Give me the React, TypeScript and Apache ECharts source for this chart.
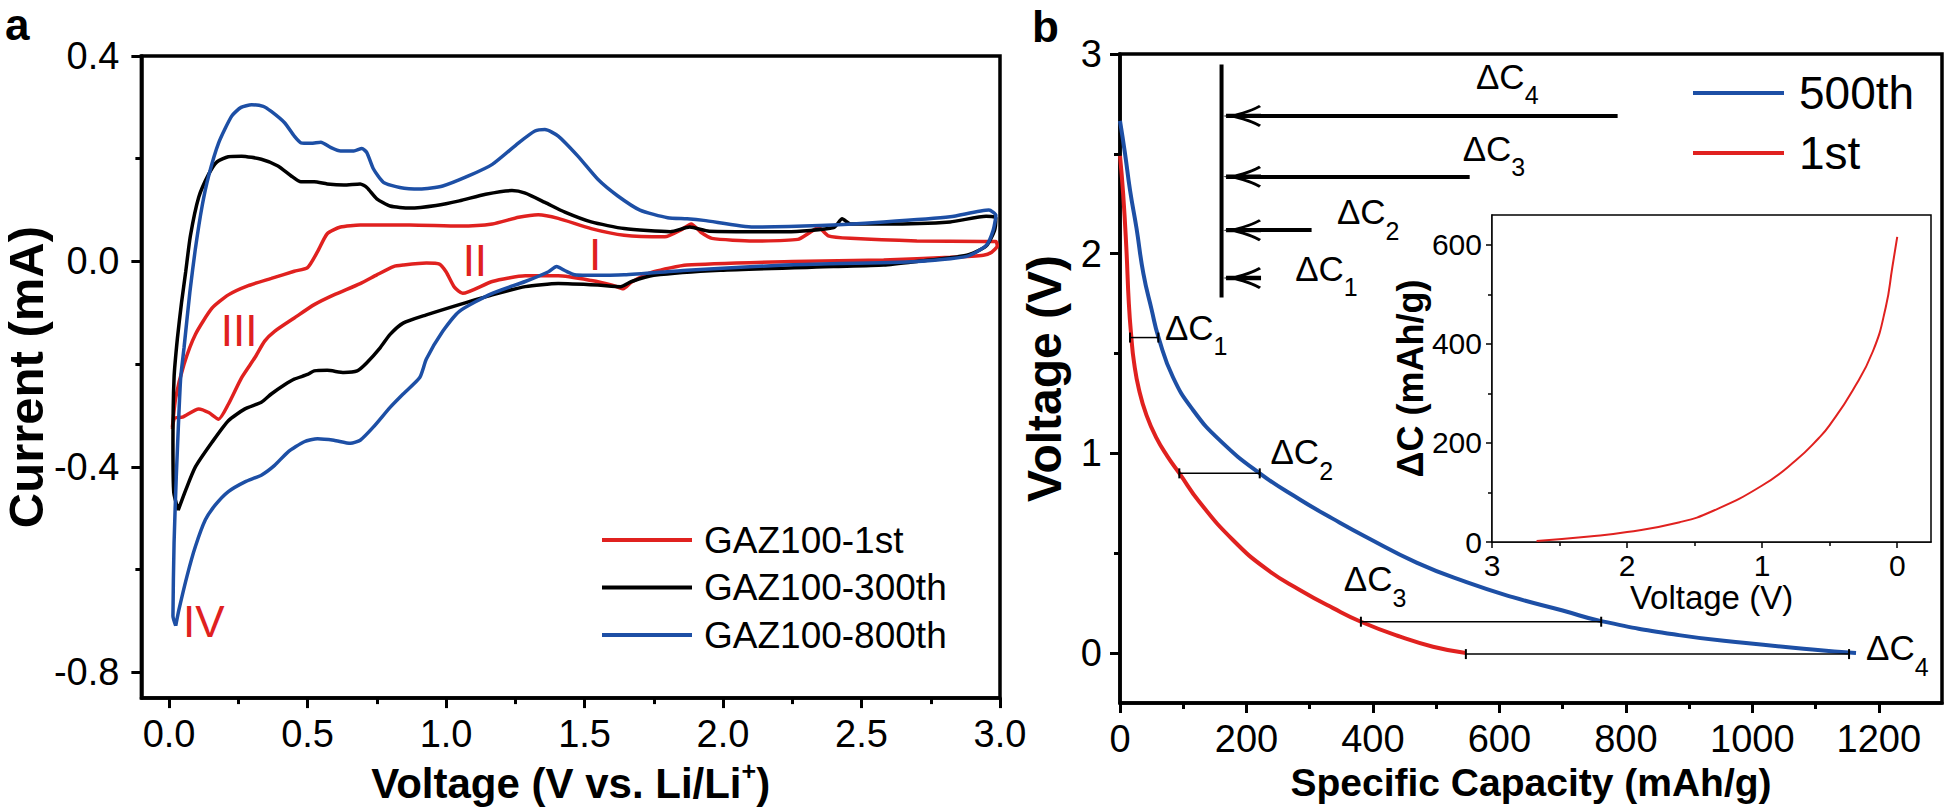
import React, { useEffect, useRef } from "react";
import * as echarts from "echarts";

const FONT = '"Liberation Sans", Arial, Helvetica, sans-serif';
const RED = "#e0211f";
const BLUE = "#1d4fa5";
const BLACK = "#000000";

// ---------- Panel a: cyclic voltammetry (Voltage V, Current mA) ----------
const CV_1ST: number[][] = [
  [0.012, -0.323], [0.024, -0.265], [0.054, -0.2], [0.095, -0.142], [0.155, -0.091], [0.214, -0.065],
  [0.286, -0.047], [0.369, -0.033], [0.452, -0.019], [0.5, -0.012], [0.536, 0.019], [0.571, 0.054],
  [0.619, 0.067], [0.69, 0.071], [0.869, 0.071], [1.048, 0.069], [1.167, 0.073], [1.262, 0.086],
  [1.333, 0.091], [1.405, 0.084], [1.524, 0.064], [1.643, 0.051], [1.79, 0.048], [1.85, 0.062],
  [1.885, 0.073], [1.92, 0.057], [1.96, 0.045], [2.11, 0.04], [2.27, 0.043], [2.315, 0.057],
  [2.345, 0.066], [2.38, 0.05], [2.46, 0.045], [2.7, 0.04], [2.94, 0.039], [2.985, 0.039],
  [2.99, 0.03], [2.97, 0.018], [2.94, 0.012], [2.82, 0.008], [2.58, 0.003], [2.25, 0.0],
  [1.87, -0.007], [1.75, -0.02], [1.67, -0.04], [1.64, -0.053], [1.6, -0.046], [1.524, -0.037],
  [1.405, -0.028], [1.286, -0.028], [1.167, -0.039], [1.06, -0.062], [1.03, -0.05], [1.0, -0.02],
  [0.976, -0.005], [0.929, -0.003], [0.845, -0.007], [0.81, -0.01], [0.75, -0.026], [0.69, -0.043],
  [0.595, -0.065], [0.524, -0.084], [0.452, -0.11], [0.381, -0.136], [0.345, -0.155], [0.31, -0.187],
  [0.262, -0.226], [0.214, -0.278], [0.179, -0.307], [0.143, -0.294], [0.107, -0.287], [0.048, -0.303],
  [0.02, -0.305], [0.012, -0.326],
];
const CV_300TH: number[][] = [
  [0.033, -0.484], [0.017, -0.45], [0.014, -0.355], [0.018, -0.226], [0.03, -0.15], [0.045, -0.08],
  [0.06, -0.02], [0.077, 0.05], [0.107, 0.125], [0.143, 0.17], [0.173, 0.194], [0.214, 0.204],
  [0.262, 0.205], [0.333, 0.199], [0.393, 0.186], [0.44, 0.167], [0.476, 0.155], [0.524, 0.155],
  [0.571, 0.151], [0.631, 0.149], [0.69, 0.151], [0.714, 0.144], [0.75, 0.122], [0.798, 0.108],
  [0.869, 0.104], [0.964, 0.109], [1.048, 0.118], [1.143, 0.131], [1.238, 0.138], [1.286, 0.133],
  [1.357, 0.115], [1.429, 0.096], [1.524, 0.077], [1.643, 0.064], [1.81, 0.058], [1.88, 0.067],
  [1.95, 0.059], [2.23, 0.058], [2.4, 0.066], [2.43, 0.083], [2.46, 0.073], [2.58, 0.073],
  [2.82, 0.077], [2.95, 0.088], [2.985, 0.085], [2.98, 0.06], [2.95, 0.03], [2.88, 0.012],
  [2.7, 0.0], [2.58, -0.007], [2.4, -0.01], [1.99, -0.017], [1.75, -0.027], [1.67, -0.039],
  [1.63, -0.049], [1.548, -0.046], [1.405, -0.043], [1.286, -0.049], [1.167, -0.065], [1.048, -0.084],
  [0.929, -0.104], [0.845, -0.12], [0.798, -0.142], [0.762, -0.168], [0.714, -0.197], [0.679, -0.213],
  [0.631, -0.216], [0.571, -0.212], [0.524, -0.213], [0.5, -0.22], [0.452, -0.229], [0.417, -0.24],
  [0.369, -0.258], [0.333, -0.274], [0.274, -0.287], [0.214, -0.31], [0.155, -0.352], [0.095, -0.4],
  [0.06, -0.445], [0.033, -0.484],
];
const CV_800TH: number[][] = [
  [0.024, -0.709], [0.014, -0.69], [0.018, -0.548], [0.026, -0.419], [0.036, -0.29], [0.042, -0.226],
  [0.054, -0.168], [0.075, -0.06], [0.095, 0.025], [0.12, 0.11], [0.143, 0.167], [0.179, 0.231],
  [0.226, 0.283], [0.26, 0.3], [0.298, 0.305], [0.34, 0.302], [0.369, 0.292], [0.417, 0.27],
  [0.452, 0.244], [0.476, 0.231], [0.512, 0.23], [0.548, 0.232], [0.583, 0.222], [0.619, 0.215],
  [0.667, 0.215], [0.696, 0.22], [0.714, 0.212], [0.738, 0.18], [0.774, 0.154], [0.833, 0.144],
  [0.905, 0.141], [0.988, 0.147], [1.083, 0.167], [1.167, 0.189], [1.262, 0.231], [1.321, 0.254],
  [1.357, 0.257], [1.405, 0.244], [1.476, 0.205], [1.548, 0.16], [1.619, 0.128], [1.7, 0.1],
  [1.8, 0.085], [1.87, 0.083], [1.93, 0.08], [2.11, 0.067], [2.35, 0.07], [2.58, 0.077],
  [2.82, 0.087], [2.96, 0.1], [2.985, 0.09], [2.975, 0.06], [2.95, 0.031], [2.88, 0.01],
  [2.7, 0.0], [2.225, -0.007], [1.87, -0.017], [1.643, -0.026], [1.51, -0.027], [1.464, -0.026],
  [1.43, -0.018], [1.399, -0.01], [1.37, -0.02], [1.286, -0.039], [1.167, -0.062], [1.048, -0.097],
  [0.988, -0.136], [0.929, -0.19], [0.905, -0.226], [0.845, -0.258], [0.798, -0.284], [0.738, -0.322],
  [0.69, -0.348], [0.655, -0.354], [0.595, -0.348], [0.536, -0.345], [0.488, -0.351], [0.429, -0.371],
  [0.381, -0.397], [0.333, -0.416], [0.274, -0.429], [0.214, -0.448], [0.167, -0.474], [0.131, -0.503],
  [0.095, -0.555], [0.065, -0.612], [0.036, -0.677], [0.024, -0.709],
];
const A_X_MAJOR = [0, 0.5, 1, 1.5, 2, 2.5, 3];
const A_X_MINOR = [0.25, 0.75, 1.25, 1.75, 2.25, 2.75];
const A_Y_MAJOR = [-0.8, -0.4, 0, 0.4];
const A_Y_MINOR = [-0.6, -0.2, 0.2];
const PEAK_NAMES = ["I", "II", "III", "IV"];
const PEAK_X = [1.538, 1.104, 0.253, 0.125];
const PEAK_Y = [0.014, 0.002, -0.134, -0.701];

// ---------- Panel b: discharge curves (Specific capacity mAh/g, Voltage V) ----------
const CAP_500TH: number[][] = [
  [0, 2.665], [8, 2.5], [16, 2.315], [26, 2.13], [37, 1.9], [50, 1.72], [61, 1.58], [84, 1.38],
  [116, 1.215], [158, 1.065], [221, 0.9], [285, 0.768], [337, 0.672], [390, 0.58], [469, 0.453],
  [548, 0.355], [621, 0.28], [700, 0.213], [761, 0.16], [884, 0.09], [990, 0.05], [1095, 0.018],
  [1164, 0.0],
];
const CAP_1ST: number[][] = [
  [0, 2.49], [5, 2.3], [10, 2.03], [14, 1.75], [18, 1.58], [22, 1.46], [30, 1.32], [42, 1.19],
  [58, 1.075], [75, 0.985], [94, 0.9], [126, 0.755], [179, 0.565], [232, 0.42], [285, 0.315],
  [337, 0.225], [381, 0.157], [443, 0.082], [495, 0.032], [547, 0.0],
];
const DC_BAR_Y = [1.58, 0.9, 0.157, -0.005];
const DC_BAR_X1 = [15.8, 93.8, 381, 547];
const DC_BAR_X2 = [60.6, 221, 761, 1153];
const DC_LABEL_SUB = ["4", "3", "2", "1", "1", "2", "3", "4"];
const DC_LABEL_X = [563, 542, 343, 277, 71, 238, 354, 1180];
const DC_LABEL_Y = [2.818, 2.458, 2.14, 1.857, 1.562, 0.937, 0.303, -0.043];
const ARROW_Y = [2.69, 2.385, 2.118, 1.878];
const ARROW_END_X = [787, 553, 303, 218];
const ARROW_STEM_X = 160.6;
const ARROW_STEM_Y = [1.78, 2.948];
const B_X_MAJOR = [0, 200, 400, 600, 800, 1000, 1200];
const B_X_MINOR = [100, 300, 500, 700, 900, 1100];
const B_Y_MAJOR = [0, 1, 2, 3];
const B_Y_MINOR = [0.5, 1.5, 2.5];

// ---------- Inset: ΔC vs Voltage ----------
const INSET_V = [2.67, 2.28, 2.0, 1.61, 1.37, 1.0, 0.75, 0.58, 0.5, 0.33, 0.18, 0.085, 0.036, 0.0];
const INSET_DC = [2, 11, 20, 40, 62, 114, 165, 210, 236, 306, 385, 474, 555, 616];
const I_X_MAJOR = [0, 1, 2, 3];
const I_X_MINOR = [0.5, 1.5, 2.5];
const I_Y_MAJOR = [0, 200, 400, 600];
const I_Y_MINOR = [100, 300, 500];

// barbed arrow head (pointing up, tip at top), with a shaft strip
const ARROW_PATH =
  "path://M8,3 L12,3 L12,38 L8,38 Z M10,0 C12,14 15,26 20,36 L18,38 C14,30 11.5,22 10,13 C8.5,22 6,30 2,38 L0,36 C5,26 8,14 10,0 Z";

type AxisCfg = {
  grid: number;
  min: number;
  max: number;
  inverse?: boolean;
  major: number[];
  minor: number[];
  lw: number;
  tickLen: number;
  minorLen: number;
  tickW: number;
  fontSize: number;
  margin: number;
  fmt: (v: number) => string;
  name?: string;
  nameGap?: number;
  nameStyle?: any;
};

function axisPair(dir: "x" | "y", c: AxisCfg) {
  const position = dir === "x" ? "bottom" : "left";
  const major: any = {
    type: "value",
    gridIndex: c.grid,
    min: c.min,
    max: c.max,
    inverse: !!c.inverse,
    position,
    axisLine: { show: true, onZero: false, lineStyle: { color: BLACK, width: c.lw } },
    axisTick: {
      show: true,
      inside: false,
      customValues: c.major,
      length: c.tickLen,
      lineStyle: { color: BLACK, width: c.tickW },
    },
    axisLabel: {
      show: true,
      customValues: c.major,
      margin: c.margin,
      fontSize: c.fontSize,
      fontFamily: FONT,
      color: BLACK,
      formatter: c.fmt,
    },
    splitLine: { show: false },
  };
  if (c.name) {
    major.name = c.name;
    major.nameLocation = "middle";
    major.nameGap = c.nameGap;
    major.nameTextStyle = c.nameStyle;
  }
  const minor: any = {
    type: "value",
    gridIndex: c.grid,
    min: c.min,
    max: c.max,
    inverse: !!c.inverse,
    position,
    axisLine: { show: false, onZero: false },
    axisTick: {
      show: true,
      inside: false,
      customValues: c.minor,
      length: c.minorLen,
      lineStyle: { color: BLACK, width: c.tickW },
    },
    axisLabel: { show: false },
    splitLine: { show: false },
  };
  return [major, minor];
}

export default function App() {
  const ref = useRef<HTMLDivElement>(null);

  useEffect(() => {
    if (!ref.current) return;
    const chart = echarts.init(ref.current, undefined, { renderer: "svg" });

    const fmt1 = (v: number) => v.toFixed(1);
    const fmt0 = (v: number) => String(v);

    const xAxis = [
      ...axisPair("x", {
        grid: 0, min: -0.1, max: 3.0, major: A_X_MAJOR, minor: A_X_MINOR,
        lw: 3.5, tickLen: 10, minorLen: 6, tickW: 3, fontSize: 38, margin: 17, fmt: fmt1,
        name: "{b|Voltage (V vs. Li/Li}{sup|+}{b|)}", nameGap: 55,
        nameStyle: {
          rich: {
            b: { fontSize: 42, fontWeight: "bold", fontFamily: FONT, color: BLACK, lineHeight: 46, verticalAlign: "bottom" },
            sup: { fontSize: 25, fontWeight: "bold", fontFamily: FONT, color: BLACK, lineHeight: 25, verticalAlign: "top" },
          },
        },
      }),
      ...axisPair("x", {
        grid: 1, min: 0, max: 1300, major: B_X_MAJOR, minor: B_X_MINOR,
        lw: 3.5, tickLen: 10, minorLen: 6, tickW: 3, fontSize: 38, margin: 17, fmt: fmt0,
        name: "Specific Capacity (mAh/g)", nameGap: 58,
        nameStyle: { fontSize: 39, fontWeight: "bold", fontFamily: FONT, color: BLACK },
      }),
      ...axisPair("x", {
        grid: 2, min: -0.25, max: 3, inverse: true, major: I_X_MAJOR, minor: I_X_MINOR,
        lw: 1.5, tickLen: 6, minorLen: 4, tickW: 1.5, fontSize: 30, margin: 8, fmt: fmt0,
        name: "Voltage (V)", nameGap: 38,
        nameStyle: { fontSize: 33, fontFamily: FONT, color: BLACK },
      }),
    ];
    const yAxis = [
      ...axisPair("y", {
        grid: 0, min: -0.85, max: 0.4, major: A_Y_MAJOR, minor: A_Y_MINOR,
        lw: 3.5, tickLen: 10, minorLen: 6, tickW: 3, fontSize: 38, margin: 22, fmt: fmt1,
        name: "Current (mA)", nameGap: 72,
        nameStyle: { fontSize: 49, fontWeight: "bold", fontFamily: FONT, color: BLACK },
      }),
      ...axisPair("y", {
        grid: 1, min: -0.25, max: 3, major: B_Y_MAJOR, minor: B_Y_MINOR,
        lw: 3.5, tickLen: 10, minorLen: 6, tickW: 3, fontSize: 38, margin: 18, fmt: fmt0,
        name: "Voltage (V)", nameGap: 52,
        nameStyle: { fontSize: 48, fontWeight: "bold", fontFamily: FONT, color: BLACK },
      }),
      ...axisPair("y", {
        grid: 2, min: 0, max: 660, major: I_Y_MAJOR, minor: I_Y_MINOR,
        lw: 1.5, tickLen: 6, minorLen: 4, tickW: 1.5, fontSize: 30, margin: 10, fmt: fmt0,
        name: "ΔC (mAh/g)", nameGap: 60,
        nameStyle: { fontSize: 36, fontWeight: "bold", fontFamily: FONT, color: BLACK },
      }),
    ];

    const cvSeries = (name: string, data: number[][], color: string) => ({
      name,
      type: "line",
      xAxisIndex: 0,
      yAxisIndex: 0,
      data,
      color,
      showSymbol: false,
      smooth: 0.2,
      lineStyle: { color, width: 3.5 },
    });

    const dcRich = {
      d: { fontSize: 35, fontFamily: FONT, color: BLACK, lineHeight: 35, padding: [0, 0, 14, 0], verticalAlign: "bottom", textBorderWidth: 0, opacity: 1 },
      s: { fontSize: 25, fontFamily: FONT, color: BLACK, lineHeight: 25, verticalAlign: "bottom", textBorderWidth: 0, opacity: 1 },
    };

    const barSeries = DC_BAR_Y.map((y, i) => ({
      type: "line",
      xAxisIndex: 2,
      yAxisIndex: 2,
      data: [[DC_BAR_X1[i], y], [DC_BAR_X2[i], y]],
      color: BLACK,
      showSymbol: true,
      symbol: "rect",
      symbolSize: [2, 10],
      itemStyle: { opacity: 1 },
      lineStyle: { color: BLACK, width: 1.5 },
      z: 5,
      silent: true,
    }));

    const arrowTipX = 193;

    const option: any = {
      animation: false,
      backgroundColor: "#ffffff",
      textStyle: { fontFamily: FONT },
      grid: [
        { left: 132, top: 56, width: 868, height: 647, show: true, borderColor: BLACK, borderWidth: 3.5, backgroundColor: "transparent" },
        { left: 1120, top: 54, width: 822, height: 649, show: true, borderColor: BLACK, borderWidth: 3.5, backgroundColor: "transparent" },
        { left: 1492, top: 215, width: 439, height: 327, show: true, borderColor: BLACK, borderWidth: 1.5, backgroundColor: "#ffffff", z: 3 },
      ],
      xAxis,
      yAxis,
      legend: [
        {
          data: ["GAZ100-1st", "GAZ100-300th", "GAZ100-800th"],
          orient: "vertical",
          left: 602,
          top: 520,
          padding: 0,
          itemWidth: 90,
          itemHeight: 4,
          itemGap: 7.5,
          icon: "rect",
          selectedMode: false,
          textStyle: { fontSize: 37, fontFamily: FONT, color: BLACK, lineHeight: 40, padding: [0, 0, 0, 7] },
        },
        {
          data: ["500th", "1st"],
          orient: "vertical",
          left: 1693,
          top: 69,
          padding: 0,
          itemWidth: 91,
          itemHeight: 4,
          itemGap: 12,
          icon: "rect",
          selectedMode: false,
          textStyle: { fontSize: 46, fontFamily: FONT, color: BLACK, lineHeight: 48, padding: [0, 0, 0, 10] },
        },
      ],
      graphic: [
        { type: "text", x: 5, y: 24, style: { text: "a", font: `bold 44px ${FONT}`, fill: BLACK, verticalAlign: "middle" } },
        { type: "text", x: 1032, y: 26, style: { text: "b", font: `bold 44px ${FONT}`, fill: BLACK, verticalAlign: "middle" } },
      ],
      series: [
        cvSeries("GAZ100-1st", CV_1ST, RED),
        cvSeries("GAZ100-300th", CV_300TH, BLACK),
        cvSeries("GAZ100-800th", CV_800TH, BLUE),
        {
          type: "scatter",
          xAxisIndex: 0,
          yAxisIndex: 0,
          symbolSize: 0,
          silent: true,
          itemStyle: { color: RED, opacity: 1 },
          data: PEAK_NAMES.map((n, i) => ({ name: n, value: [PEAK_X[i], PEAK_Y[i]] })),
          label: {
            show: true,
            position: "inside",
            formatter: (p: any) => p.name,
            fontSize: 44,
            fontFamily: FONT,
            color: RED,
            opacity: 1,
            textBorderWidth: 0,
            textBorderColor: "transparent",
          },
        },
        {
          name: "1st",
          type: "line",
          xAxisIndex: 2,
          yAxisIndex: 2,
          data: CAP_1ST,
          color: RED,
          showSymbol: false,
          smooth: 0.5,
          lineStyle: { color: RED, width: 4 },
        },
        {
          name: "500th",
          type: "line",
          xAxisIndex: 2,
          yAxisIndex: 2,
          data: CAP_500TH,
          color: BLUE,
          showSymbol: false,
          smooth: 0.5,
          lineStyle: { color: BLUE, width: 4 },
        },
        ...barSeries,
        {
          type: "line",
          xAxisIndex: 2,
          yAxisIndex: 2,
          data: ARROW_STEM_Y.map((y) => [ARROW_STEM_X, y]),
          color: BLACK,
          showSymbol: false,
          silent: true,
          lineStyle: { color: BLACK, width: 4 },
          markLine: {
            silent: true,
            animation: false,
            symbol: ["none", ARROW_PATH],
            symbolSize: [22, 38],
            label: { show: false },
            itemStyle: { color: BLACK },
            lineStyle: { color: BLACK, width: 4, type: "solid", opacity: 1 },
            emphasis: { disabled: true },
            data: ARROW_Y.map((y, i) => [
              { coord: [ARROW_END_X[i], y] },
              { coord: [arrowTipX, y] },
            ]),
          },
        },
        {
          type: "scatter",
          xAxisIndex: 2,
          yAxisIndex: 2,
          symbolSize: 0,
          silent: true,
          itemStyle: { color: BLACK, opacity: 1 },
          data: DC_LABEL_SUB.map((s, i) => ({ name: s, value: [DC_LABEL_X[i], DC_LABEL_Y[i]] })),
          label: {
            show: true,
            position: "inside",
            align: "left",
            verticalAlign: "middle",
            color: BLACK,
            opacity: 1,
            textBorderWidth: 0,
            textBorderColor: "transparent",
            formatter: (p: any) => `{d|ΔC}{s|${p.name}}`,
            rich: dcRich,
          },
        },
        {
          name: "inset",
          type: "line",
          xAxisIndex: 4,
          yAxisIndex: 4,
          data: INSET_V.map((v, i) => [v, INSET_DC[i]]),
          color: RED,
          showSymbol: false,
          smooth: 0.5,
          lineStyle: { color: RED, width: 2 },
          z: 4,
        },
      ],
    };

    chart.setOption(option);
    return () => {
      chart.dispose();
    };
  }, []);

  return (
    <div
      ref={ref}
      style={{ position: "fixed", left: 0, top: 0, width: 1946, height: 809, background: "#fff" }}
    />
  );
}
